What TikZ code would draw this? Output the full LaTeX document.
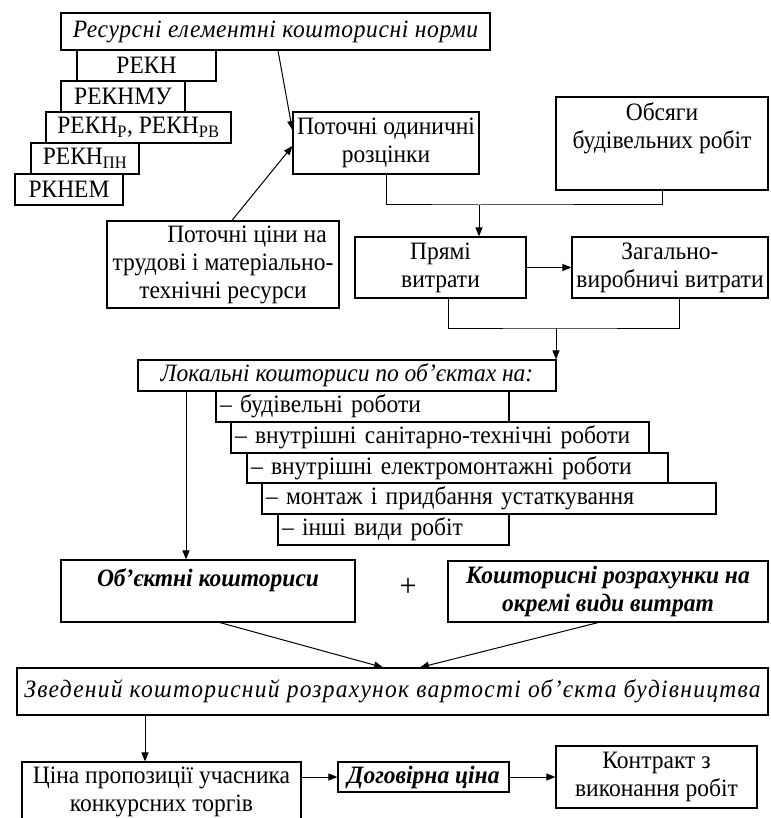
\documentclass[tikz,border=0pt]{standalone}
\usepackage{fontspec}
\setmainfont{Liberation Serif}[FakeStretch=0.94]
\usetikzlibrary{arrows.meta,positioning}

\begin{document}
\begin{tikzpicture}[x=1pt, y=-1pt,
                blok/.style={shape=rectangle, draw=black, line width=1.2pt, inner sep=0pt, align=center, font=\fontsize{25}{28}\selectfont},
                tekst/.style={inner sep=0pt, align=center, font=\fontsize{25}{28}\selectfont},
                kursiv/.style={font=\fontsize{25}{28}\selectfont\itshape},
                zhyrnyi/.style={font=\fontsize{25}{28}\selectfont\bfseries\itshape},
                punkt/.style={align=left, inner xsep=4pt},
                liniya/.style={line width=1pt},
                strilka/.style={line width=1pt, -{Triangle[length=9pt, width=7pt]}},
            ]
            \useasboundingbox (0,0) rectangle (770,818);
            \node[blok, kursiv, minimum width=429, minimum height=37] (res) at (275.5,31.5) {\addfontfeatures{LetterSpace=2.5}Ресурсні елементні кошторисні норми};
            \node[blok, minimum width=139, minimum height=31] (rekn) at (146.5,65.5) {РЕКН};
            \node[blok, minimum width=124, minimum height=31] (reknmu) at (123,96.5) {РЕКНМУ};
            \node[blok, minimum width=185, minimum height=31] (reknr) at (138.5,127.5) {РЕКН\textsubscript{Р}, РЕКН\textsubscript{РВ}};
            \node[blok, minimum width=108, minimum height=31] (reknpn) at (85,158.5) {РЕКН\textsubscript{ПН}};
            \node[blok, minimum width=108, minimum height=31] (rknem) at (69,189.5) {РКНЕМ};
            \node[blok, minimum width=186, minimum height=62] (rozc) at (386,143) {Поточні одиничні\\розцінки};
            \node[blok, minimum width=212, minimum height=93] (obs) at (662,143.5) {};
            \node[tekst, below=6pt of obs.north] (obstxt) {Обсяги\\будівельних робіт};
            \node[blok, minimum width=232, minimum height=87] (tsiny) at (223,264.5) {\hspace*{48pt}Поточні ціни на\\трудові і матеріально-\\технічні ресурси};
            \node[blok, minimum width=171, minimum height=61] (pryami) at (440.5,267.5) {Прямі\\витрати};
            \node[blok, minimum width=196, minimum height=61] (zag) at (670,267.5) {Загально-\\виробничі витрати};
            \node[blok, kursiv, minimum width=418, minimum height=31] (lok) at (347,375.5) {Локальні кошториси по об’єктах на:};
            \node[blok, punkt, text width=285, minimum height=31] (l1) at (362.5,406.5) {– будівельні роботи};
            \node[blok, punkt, text width=410, minimum height=31] (l2) at (440,437.5) {– внутрішні санітарно-технічні роботи};
            \node[blok, punkt, text width=413, minimum height=30] (l3) at (457.5,468) {– внутрішні електромонтажні роботи};
            \node[blok, punkt, text width=446, minimum height=31] (l4) at (489,498.5) {– монтаж і придбання устаткування};
            \node[blok, punkt, text width=223, minimum height=31] (l5) at (393.5,529.5) {– інші види робіт};
            \node[blok, minimum width=294, minimum height=62] (obj) at (208,591) {};
            \node[tekst, zhyrnyi, below=9pt of obj.north] (objtxt) {Об’єктні кошториси};
            \node[tekst, font=\fontsize{32}{32}\selectfont] (plus) at (408,587) {+};
            \node[blok, zhyrnyi, minimum width=320, minimum height=61] (kosht) at (608,591.5) {Кошторисні розрахунки на\\окремі види витрат};
            \node[blok, kursiv, minimum width=751, minimum height=47] (zved) at (392.5,691.5) {\addfontfeatures{LetterSpace=5}Зведений кошторисний розрахунок вартості об’єкта будівництва};
            \node[blok, minimum width=279, minimum height=60] (tsina) at (161.5,792) {Ціна пропозиції учасника\\конкурсних торгів};
            \node[blok, zhyrnyi, minimum width=171, minimum height=30] (dog) at (423.5,777) {Договірна ціна};
            \node[blok, minimum width=201, minimum height=62] (kontr) at (656.5,777) {Контракт з\\виконання робіт};
            \coordinate (m1) at (479,205);
            \coordinate (m2) at (556,328);
            \coordinate (c1) at ([xshift=-22pt]obj.north);
            \coordinate (c2) at ([xshift=-16.5pt]tsina.north);
            \draw[strilka] ([xshift=2.5pt]res.south) -- ([yshift=13pt]rozc.west);
            \draw[strilka] ([xshift=9pt]tsiny.north) -- ([yshift=-3pt]rozc.west);
            \draw[liniya] (rozc.south) |- (m1) -| (obs.south);
            \draw[strilka] (m1) -- (m1 |- pryami.north);
            \draw[strilka] (pryami.east) -- (zag.west);
            \draw[liniya] ([xshift=7.5pt]pryami.south) |- (m2) -| ([xshift=9pt]zag.south);
            \draw[strilka] (m2) -- (m2 |- lok.north);
            \draw[strilka] (c1 |- lok.south) -- (c1);
            \draw[strilka] ([xshift=12pt]obj.south) -- ([xshift=-9.5pt]zved.north);
            \draw[strilka] ([xshift=-10pt]kosht.south) -- ([xshift=27.5pt]zved.north);
            \draw[strilka] (c2 |- zved.south) -- (c2);
            \draw[strilka] (tsina.east |- dog.west) -- (dog.west);
            \draw[strilka] (dog.east) -- (kontr.west);
        \end{tikzpicture}
\end{document}
